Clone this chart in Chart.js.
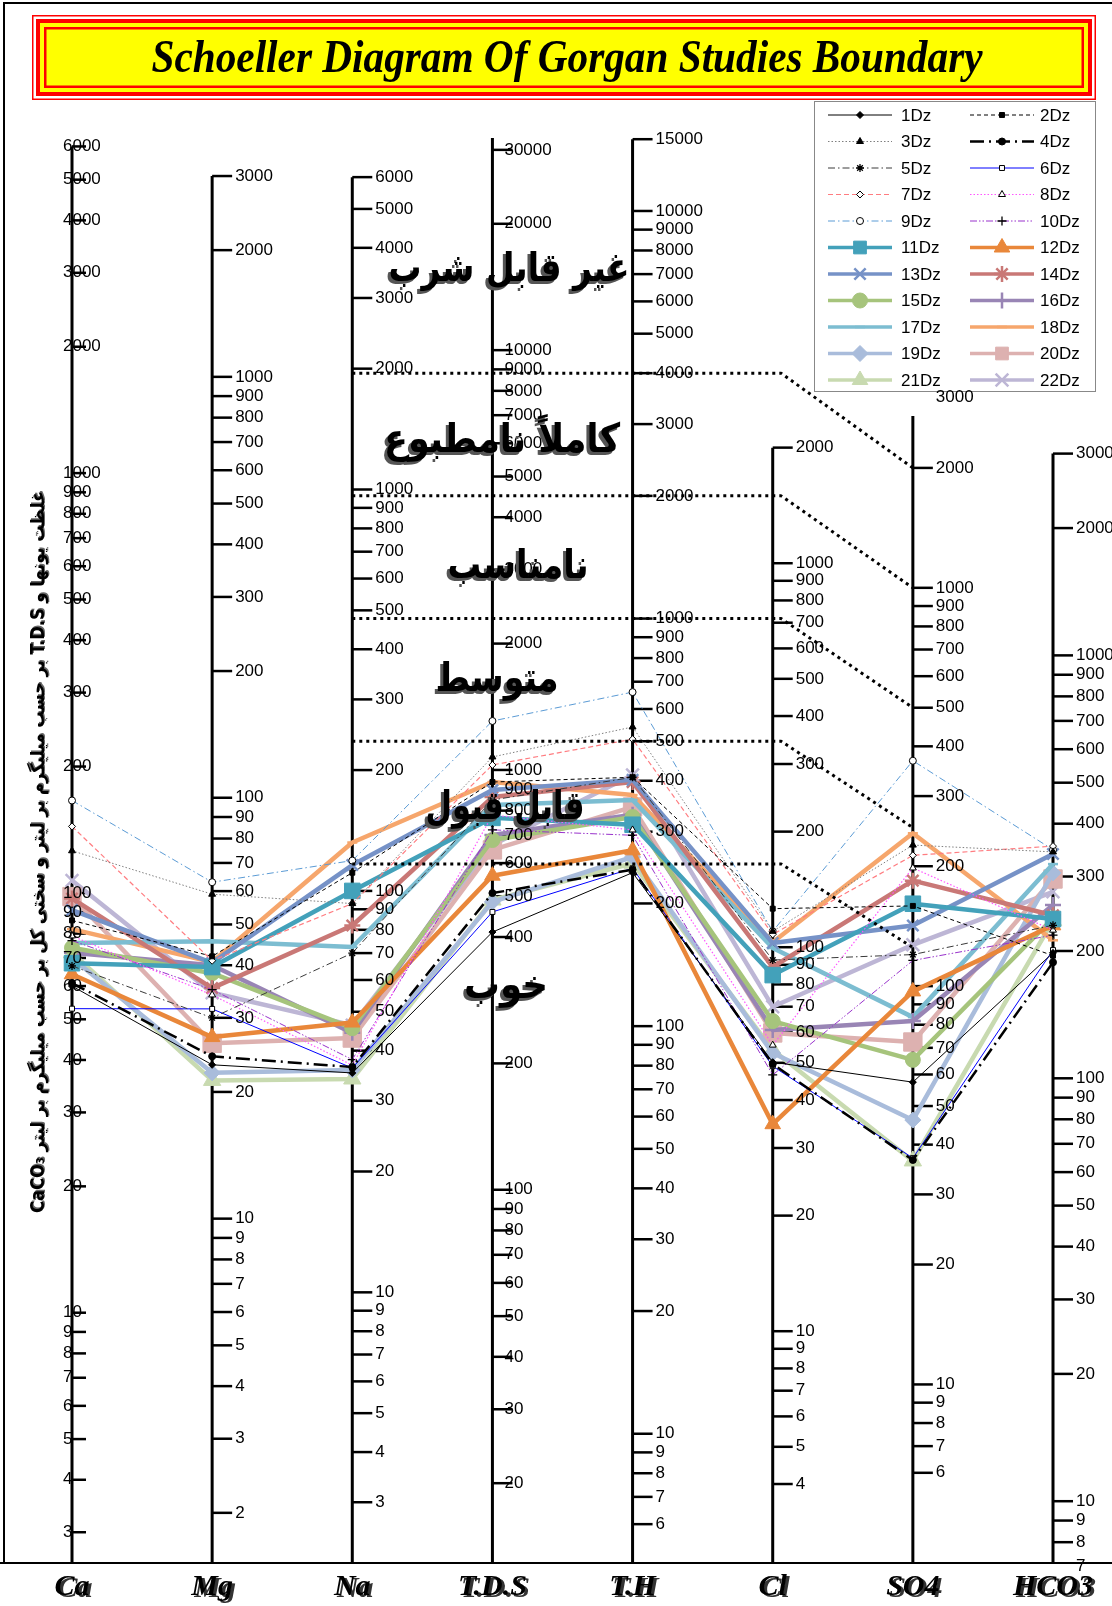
<!DOCTYPE html>
<html>
<head>
<meta charset="utf-8">
<script src="https://cdn.jsdelivr.net/npm/chart.js@4.4.1/dist/chart.umd.min.js"></script>
<style>
html,body{margin:0;padding:0;background:#fff;}
#wrap{position:relative;width:1112px;height:1606px;}
</style>
</head>
<body>
<div id="wrap"><canvas id="c"></canvas></div>
<script>
// ---------------- DATA ----------------
const parameters = ['Ca', 'Mg', 'Na', 'T.D.S', 'T.H', 'Cl', 'SO4', 'HCO3'];
const samples = ['1Dz','2Dz','3Dz','4Dz','5Dz','6Dz','7Dz','8Dz','9Dz','10Dz','11Dz',
                 '12Dz','13Dz','14Dz','15Dz','16Dz','17Dz','18Dz','19Dz','20Dz','21Dz','22Dz'];
// mg/L (T.H as mg/L CaCO3), one value per sample, in the order of `samples`
const ca   = [60, 86, 126, 61, 67, 53, 144, 79, 166, 77, 68, 64, 91, 97, 74, 72, 76, 82, 70, 98, 72, 107];
const mg   = [23.2, 42, 59, 24.3, 30, 31.5, 41, 34, 63, 35, 39.6, 27, 40.5, 35.3, 38.3, 40, 45.6, 40.7, 22.2, 26.1, 21.3, 34.4];
const na   = [35.2, 111, 93, 36.4, 70, 36.2, 93, 36.8, 119, 38, 100, 47, 116, 82, 45.5, 44.3, 72.5, 132, 35.8, 43, 34, 46.3];
const tds  = [411, 936, 1074, 509, 848, 459, 1028, 781, 1308, 720, 769, 560, 896, 862, 681, 700, 825, 936, 485, 645, 490, 663];
const th   = [238, 408, 542, 242, 408, 244, 506, 303, 660, 294, 312, 270, 402, 397, 326, 330, 359, 369, 260, 345, 251, 413];
const cl   = [50.2, 126, 110, 49.6, 92.6, 49, 108, 55.6, 110, 46.5, 84.6, 34.6, 102.5, 88.8, 64.2, 60.9, 99.5, 103, 53, 59.8, 54, 70];
const so4  = [57.4, 159, 226, 36.6, 120, 37, 213, 198, 368, 116, 161, 97, 142, 184, 65.3, 81.7, 83.6, 242, 46.1, 72.4, 36.4, 127];
const hco3 = [198, 195, 343, 188, 230, 201, 354, 224, 347, 218, 238, 230, 339, 243, 239, 257, 321, 212, 306, 296, 236, 276];

// drinking-water class limits (T.H level of the horizontal part, SO4 level at the end)
const classTH  = [4000, 2000, 1000, 500, 250];
const classSO4 = [2000, 1000, 500, 250, 125];
const classNames = ['غیر قابل شرب', 'کاملاً نامطبوع', 'نامناسب', 'متوسط', 'قابل قبول', 'خوب'];

// tick labels of each axis
const caTicks   = [6000,5000,4000,3000,2000,1000,900,800,700,600,500,400,300,200,100,90,80,70,60,50,40,30,20,10,9,8,7,6,5,4,3];
const mgTicks   = [3000,2000,1000,900,800,700,600,500,400,300,200,100,90,80,70,60,50,40,30,20,10,9,8,7,6,5,4,3,2];
const naTicks   = [6000,5000,4000,3000,2000,1000,900,800,700,600,500,400,300,200,100,90,80,70,60,50,40,30,20,10,9,8,7,6,5,4,3];
const tdsTicks  = [30000,20000,10000,9000,8000,7000,6000,5000,4000,3000,2000,1000,900,800,700,600,500,400,200,100,90,80,70,60,50,40,30,20];
const thTicks   = [15000,10000,9000,8000,7000,6000,5000,4000,3000,2000,1000,900,800,700,600,500,400,300,200,100,90,80,70,60,50,40,30,20,10,9,8,7,6];
const clTicks   = [2000,1000,900,800,700,600,500,400,300,200,100,90,80,70,60,50,40,30,20,10,9,8,7,6,5,4];
const so4Ticks  = [3000,2000,1000,900,800,700,600,500,400,300,200,100,90,80,70,60,50,40,30,20,10,9,8,7,6];
const hco3Ticks = [3000,2000,1000,900,800,700,600,500,400,300,200,100,90,80,70,60,50,40,30,20,10,9,8,7];

// ---------------- AXIS SCALES (log axes sharing one frame) ----------------
const axisBaseValue  = [2.534, 1.520, 2.117, 12.91, 4.818, 2.491, 3.562, 7.143]; // value at the base line
const axisDecadeSize = [1, 1.0026, 0.9562, 1.0, 0.9709, 0.9147, 0.9488, 1.0074]; // decade length, relative
const axisTopValue   = [6000, 3000, 6000, 32000, 15000, 2000, 2700, 3000];
const axisTicks = [caTicks, mgTicks, naTicks, tdsTicks, thTicks, clTicks, so4Ticks, hco3Ticks];
const FRAME_TOP = 3.4135; // decades shown above the base line
function toU(i, v) { return (Math.log10(v) - Math.log10(axisBaseValue[i])) * axisDecadeSize[i]; }

// ---------------- STYLES ----------------
const seriesColor = ['#000000','#000000','#7f7f7f','#000000','#3a3a3a','#0000ff','#ff7c80','#ff55ff','#5b9bd5','#9933cc',
  '#43a1ba','#e9873a','#7692c7','#c97876','#a6c47c','#9985b5','#7cbdd1','#f6a66c','#a9bcdb','#ddb1b0','#c8dab0','#bdb6d5'];
const seriesWidth = [1,1,1,2.5,1,1,1.2,1.2,1,1,4.5,4.5,4.5,4.5,4.5,4.5,4.5,4.5,4.5,4.5,4.5,4.5];
const seriesDash = [[],[4,3],[1.5,2],[14,5,2,5],[7,3,1.5,3],[],[5,3],[1.5,2],[7,3,1.5,3],[7,2,1.5,2,1.5,2],
  [],[],[],[],[],[],[],[],[],[],[],[]];
const seriesMarker = ['rectRot','rect','triangle','circle','star','rect','rectRot','triangle','circle','cross',
  'rect','triangle','crossRot','star','circle','cross','line','line','rectRot','rect','triangle','crossRot'];
const seriesMarkerSize = [3.5,3.5,4,3.5,4,3.5,3.5,4,3.5,4.5,11,9,8,8,7.5,8,5,5,8,13,10,9];
const hollowMarker = [false,false,false,false,false,true,true,true,true,false,false,false,false,false,false,false,false,false,false,false,false,false];

const valuesByAxis = [ca, mg, na, tds, th, cl, so4, hco3];

const datasets = samples.map((name, k) => {
  const thick = seriesWidth[k] >= 3;
  const lineOnly = ['cross','crossRot','star','line'].includes(seriesMarker[k]);
  return {
    label: name,
    data: valuesByAxis.map((arr, i) => ({ x: i, y: toU(i, arr[k]) })),
    borderColor: seriesColor[k],
    borderWidth: seriesWidth[k],
    borderDash: seriesDash[k],
    pointStyle: seriesMarker[k],
    pointRadius: seriesMarkerSize[k],
    pointBackgroundColor: hollowMarker[k] ? '#ffffff' : (thick ? seriesColor[k] : '#000000'),
    pointBorderColor: thick ? seriesColor[k] : '#000000',
    pointBorderWidth: lineOnly ? (thick ? 2.5 : 1.3) : 1,
    fill: false, tension: 0, clip: false, order: 1
  };
});
classTH.forEach((v, j) => {
  datasets.push({
    label: '_class' + j,
    data: [{ x: 2, y: toU(4, v) }, { x: 5.06, y: toU(4, v) }, { x: 6, y: toU(6, classSO4[j]) }],
    borderColor: '#000', borderWidth: 3, borderDash: [3, 4], pointRadius: 0,
    fill: false, tension: 0, clip: false, order: 0
  });
});

// ---------------- DRAWING HELPERS ----------------
function marker(ctx, style, r, x, y, bw) {
  if (Chart.helpers && Chart.helpers.drawPoint) {
    Chart.helpers.drawPoint(ctx, { pointStyle: style, rotation: 0, radius: r, borderWidth: bw }, x, y);
  } else {
    ctx.beginPath(); ctx.arc(x, y, r, 0, Math.PI * 2); ctx.fill(); ctx.stroke();
  }
}
function fitText(ctx, text, x, y, width, color, shadow, dx, dy) {
  const w = ctx.measureText(text).width;
  const s = width / w;
  ctx.save();
  ctx.translate(x, y);
  ctx.scale(s, 1);
  if (shadow) { ctx.fillStyle = shadow; ctx.fillText(text, dx / s, dy); }
  ctx.fillStyle = color; ctx.fillText(text, 0, 0);
  ctx.restore();
}

const decor = {
  id: 'decor',
  beforeDraw(chart) {
    const ctx = chart.ctx;
    ctx.save();
    ctx.fillStyle = '#fff'; ctx.fillRect(0, 0, chart.width, chart.height);
    // title box
    const X = 32, Y = 15, W = 1064, H = 85;
    const layers = [['#ff0000',0],['#ffffff',1.5],['#ff0000',4],['#ffff00',8],['#ff0000',12],['#ffff00',14.5]];
    layers.forEach(([c, d]) => { ctx.fillStyle = c; ctx.fillRect(X + d, Y + d, W - 2 * d, H - 2 * d); });
    ctx.font = 'italic bold 47px "Liberation Serif", "DejaVu Serif", serif';
    ctx.textAlign = 'center'; ctx.textBaseline = 'alphabetic';
    fitText(ctx, 'Schoeller Diagram Of Gorgan Studies Boundary', 567, 72, 831, '#000');
    ctx.restore();
  },
  beforeDatasetsDraw(chart) {
    const ctx = chart.ctx, xs = chart.scales.x, ys = chart.scales.y;
    ctx.save();
    // outer frame
    const yb = ys.getPixelForValue(0);
    ctx.strokeStyle = '#000'; ctx.lineWidth = 2;
    ctx.beginPath(); ctx.moveTo(4, yb); ctx.lineTo(4, 3); ctx.lineTo(1112, 3);
    ctx.moveTo(0, yb); ctx.lineTo(1112, yb); ctx.stroke();
    // axes and tick marks
    parameters.forEach((p, i) => {
      const x = xs.getPixelForValue(i);
      const topU = toU(i, axisTopValue[i]);
      const yt = ys.getPixelForValue(topU);
      ctx.strokeStyle = '#000'; ctx.lineWidth = 3;
      ctx.beginPath(); ctx.moveTo(x, yb); ctx.lineTo(x, yt); ctx.stroke();
      const tickLen = i === 0 ? 14 : 20;
      ctx.lineWidth = 2.5;
      axisTicks[i].forEach(t => {
        const u = toU(i, t);
        if (u <= topU + 1e-6 && u >= 0) {
          const y = ys.getPixelForValue(u);
          ctx.beginPath(); ctx.moveTo(x, y); ctx.lineTo(x + tickLen, y); ctx.stroke();
        }
      });
    });
    ctx.restore();
  },
  afterDatasetsDraw(chart) {
    const ctx = chart.ctx, xs = chart.scales.x, ys = chart.scales.y;
    ctx.save();
    // legend
    ctx.fillStyle = '#fff'; ctx.fillRect(814, 101, 282, 291);
    ctx.strokeStyle = '#888'; ctx.lineWidth = 1; ctx.setLineDash([]);
    ctx.strokeRect(814.5, 101.5, 281, 290);
    ctx.font = '17px "Liberation Sans", Arial, sans-serif';
    ctx.textAlign = 'left'; ctx.textBaseline = 'middle';
    samples.forEach((name, k) => {
      const row = Math.floor(k / 2), col = k % 2;
      const y = 115 + row * 26.5;
      const x0 = col === 0 ? 828 : 970, x1 = x0 + 64, xm = (x0 + x1) / 2;
      const ds = chart.data.datasets[k];
      ctx.strokeStyle = ds.borderColor; ctx.lineWidth = Math.min(ds.borderWidth, 3.5);
      ctx.setLineDash(ds.borderDash);
      ctx.beginPath(); ctx.moveTo(x0, y); ctx.lineTo(x1, y); ctx.stroke();
      ctx.setLineDash([]);
      ctx.fillStyle = ds.pointBackgroundColor; ctx.strokeStyle = ds.pointBorderColor;
      ctx.lineWidth = ds.pointBorderWidth;
      marker(ctx, ds.pointStyle, Math.min(ds.pointRadius, 9), xm, y, ds.pointBorderWidth);
      ctx.fillStyle = '#000';
      ctx.fillText(name, col === 0 ? 901 : 1040, y + 1);
    });
    // tick labels
    ctx.font = '17px "Liberation Sans", Arial, sans-serif';
    ctx.textBaseline = 'middle'; ctx.textAlign = 'left'; ctx.fillStyle = '#000';
    parameters.forEach((p, i) => {
      const x = xs.getPixelForValue(i);
      const lx = i === 0 ? x - 9 : (i === 3 ? x + 12 : x + 23);
      axisTicks[i].forEach(t => {
        ctx.fillText(String(t), lx, ys.getPixelForValue(toU(i, t)));
      });
    });
    // class names
    ctx.direction = 'rtl';
    ctx.textAlign = 'center'; ctx.textBaseline = 'middle';
    ctx.font = 'bold 40px "DejaVu Sans", sans-serif';
    const cx = [509, 502, 518, 497, 505, 506];
    const cy = [271, 442, 568, 681, 809, 988];
    const cw = [241, 236, 141, 123, 159, 84];
    classNames.forEach((t, j) => fitText(ctx, t, cx[j], cy[j], cw[j], '#000', '#555', -3, 3));
    // vertical title
    ctx.save();
    ctx.translate(39, 852);
    ctx.rotate(-Math.PI / 2);
    ctx.font = 'bold 19px "DejaVu Sans", sans-serif';
    fitText(ctx, 'غلظت یونها و T.D.S بر حسب میلیگرم بر لیتر و سختی کل بر حسب میلیگرم بر لیتر CaCO₃', 0, 0, 722, '#000', '#666', 1.5, 1.5);
    ctx.restore();
    ctx.direction = 'ltr';
    // parameter names below the axes
    ctx.font = 'italic bold 30px "Liberation Serif", serif';
    ctx.textAlign = 'center';
    parameters.forEach((p, i) => {
      const x = xs.getPixelForValue(i);
      ctx.fillStyle = '#333'; ctx.fillText(p, x + 3, 1589);
      ctx.fillStyle = '#000'; ctx.fillText(p, x, 1587);
    });
    ctx.restore();
  }
};

new Chart(document.getElementById('c'), {
  type: 'line',
  data: { datasets },
  options: {
    responsive: true, maintainAspectRatio: false, animation: false,
    layout: { padding: { left: 72, right: 59, top: 130, bottom: 43 } },
    scales: {
      x: { type: 'linear', min: 0, max: 7, display: false },
      y: { type: 'linear', min: 0, max: FRAME_TOP, display: false }
    },
    plugins: { legend: { display: false }, tooltip: { enabled: false }, title: { display: false } },
    elements: { line: { borderJoinStyle: 'round' } }
  },
  plugins: [decor]
});
</script>
</body>
</html>
